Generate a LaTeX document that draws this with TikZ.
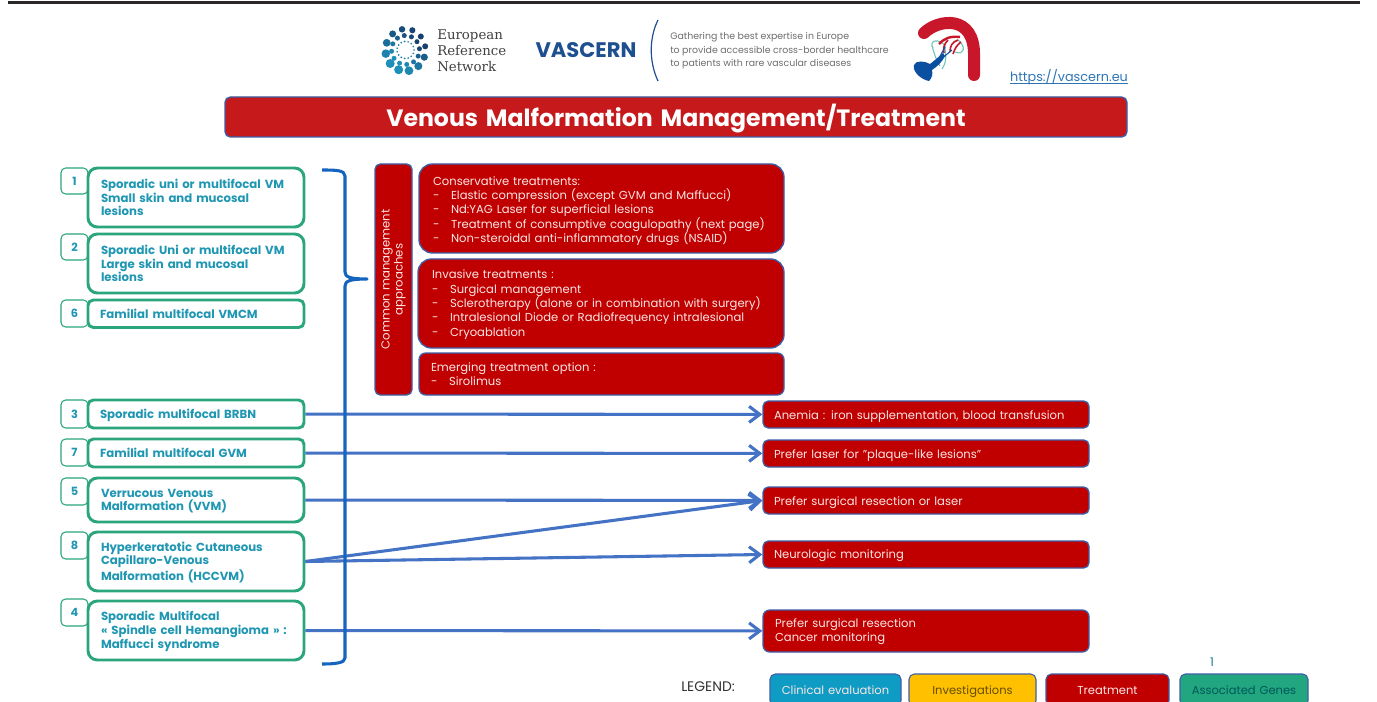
\documentclass[tikz,border=0pt]{standalone}
\usepackage{fontspec}
\setmainfont{Poppins}
\newfontfamily\logoserif{DejaVu Serif}
\usetikzlibrary{arrows.meta}
\definecolor{rulec}{HTML}{2B2727}
\definecolor{boxred}{HTML}{C00000}
\definecolor{titlered}{HTML}{C5191B}
\definecolor{edgeblue}{HTML}{3E5FA8}
\definecolor{arrowblue}{HTML}{4472C4}
\definecolor{bracec}{HTML}{1565C0}
\definecolor{greenedge}{HTML}{2BA57E}
\definecolor{tealtext}{HTML}{1F97B3}
\definecolor{softwhite}{HTML}{FBE6E4}
\definecolor{clinical}{HTML}{0E9CC4}
\definecolor{invest}{HTML}{FFC000}
\definecolor{genes}{HTML}{21A67F}
\definecolor{navydot}{HTML}{17406F}
\definecolor{lightdot}{HTML}{1E93BC}
\definecolor{archred}{HTML}{C8162B}
\definecolor{veinblue}{HTML}{0B4FA0}
\definecolor{taggray}{HTML}{6E6E6E}
\definecolor{urlblue}{HTML}{2E75B6}
\definecolor{vascernblue}{HTML}{1E4F8F}
\definecolor{vesselteal}{HTML}{6CC4B4}
\newcommand{\pbox}[8]{%
  \pgfmathsetmacro{\bw}{#4-#2}\pgfmathsetmacro{\bh}{#5-#3}%
  \pgfmathsetmacro{\bcx}{(#2+#4)/2}\pgfmathsetmacro{\bcy}{(#3+#5)/2}%
  \pgfmathsetmacro{\tw}{(#4-#2-2*#6)*0.75}%
  \node[minimum width=\bw*0.75pt,minimum height=\bh*0.75pt,text width=\tw pt,inner sep=0pt,#7] (#1) at (\bcx,\bcy) {#8};}
\newcommand{\dash}{\makebox[13.5pt][l]{-}}
\tikzset{
  x=0.75pt,y=-0.75pt,
  nudge/.style={execute at begin node={\rule{0pt}{#1}}},
  greenbox/.style={draw=greenedge,line width=2.2pt,fill=white,rounded corners=7pt,align=left,text=tealtext,font=\fontsize{8.8pt}{10pt}\selectfont\bfseries},
  numbox/.style={draw=greenedge,line width=0.8pt,fill=white,rounded corners=3.5pt,align=center,text=tealtext,font=\fontsize{8.5pt}{10pt}\selectfont\bfseries},
  redbox/.style={draw=edgeblue,line width=1pt,fill=boxred,rounded corners=10pt,align=left,text=softwhite,font=\fontsize{8.68pt}{10.75pt}\selectfont},
  redsmall/.style={redbox,rounded corners=4pt},
  legendbox/.style={draw=edgeblue,line width=0.8pt,rounded corners=4pt,align=center,text height=8.5pt,text depth=2pt,font=\fontsize{8.65pt}{10pt}\selectfont},
  flow/.style={draw=arrowblue,line width=2.3pt,-{Straight Barb[length=8pt,width=12pt,line width=2.3pt]}},
}
\begin{document}
\begin{tikzpicture}
\useasboundingbox (0,0) rectangle (1377,702);
\fill[white] (0,0) rectangle (1377,702);
\draw[rulec,line width=1.6pt] (8,2.5) -- (1360,2.5);

% ERN logo
\foreach \a/\m in {-20/95,10/100,40/100,70/95,100/85,130/70,160/45,190/20,220/5,250/5,280/15,310/35,340/65}{
  \pgfmathsetmacro{\rr}{3.0+1.6*(100-\m)/100}
  \fill[navydot!\m!lightdot] ({405.5+20*cos(\a)},{50-21*sin(\a)}) circle ({\rr});}
\foreach \a/\m in {5/95,35/95,65/90,95/80,125/60,155/35,185/15,215/5,245/5,275/15,305/35,335/60}{
  \fill[navydot!\m!lightdot] ({405.5+14*cos(\a)},{50-14.5*sin(\a)}) circle (2.5);}
\foreach \a in {0,24,...,336}{
  \fill[lightdot!75!navydot] ({405.5+8.5*cos(\a)},{50-8.5*sin(\a)}) circle (0.95);}

\node[font=\logoserif\fontsize{10pt}{11.9pt}\selectfont,text=black!75,align=left,inner sep=0pt,anchor=west] (ern) at (437,51) {European\\Reference\\Network};
\node[font=\fontsize{15.8pt}{17pt}\selectfont\bfseries,text=vascernblue,inner sep=0pt] (vascern) at (586,50) {VASCERN};
\draw[vascernblue,line width=0.9pt] (658,20) .. controls (649,38) and (649,62) .. (658,81);
\node[font=\fontsize{7.05pt}{10.2pt}\selectfont,text=taggray,align=left,inner sep=0pt,anchor=west] (tag) at (670,51) {Gathering the best expertise in Europe\\to provide accessible cross-border healthcare\\to patients with rare vascular diseases};

% Vascular logo
\draw[vesselteal,line width=0.8pt] (933,48) .. controls (928,40) and (940,38) .. (945,46) .. controls (945,54) and (948,60) .. (942,69);
\draw[vesselteal,line width=0.8pt] (955,52) .. controls (965,56) and (966,46) .. (958,40);
\draw[vesselteal,line width=0.8pt] (932,46) .. controls (935,56) and (937,62) .. (940,66);
\draw[archred,line width=9pt,line cap=round] (924,33) .. controls (938,19) and (975,14) .. (974,56) -- (974,75);
\begin{scope}[draw=archred]
  \draw[line width=1.8pt] (960,37) .. controls (950,36) and (945,38) .. (939,44);
  \draw[line width=1.2pt] (958,40) .. controls (952,42) and (950,46) .. (950,52);
  \draw[line width=1.2pt] (961,42) .. controls (957,45) and (955,48) .. (953,54);
  \draw[line width=1.2pt] (948,40) .. controls (944,44) and (943,48) .. (944,53);
\end{scope}
\fill[veinblue] (914,65) .. controls (916,60) and (925,61) .. (930,64) .. controls (935,60) and (940,56) .. (943,53) -- (945,56) .. controls (942,62) and (938,66) .. (932,70) .. controls (933,74) and (932,78) .. (929,81) .. controls (922,80) and (912,72) .. (914,65) -- cycle;
\draw[veinblue,line width=0.8pt] (938,60) -- (945,47);
\draw[veinblue,line width=0.8pt] (940,60) -- (952,50);

\node[font=\fontsize{9.6pt}{11pt}\selectfont,text=urlblue,inner sep=0pt] (url) at (1069,77) {https://vascern.eu};
\draw[urlblue,line width=0.6pt] ([yshift=-1.5pt]url.base west) -- ([yshift=-1.5pt]url.base east);

% Title
\pbox{title}{225}{97}{1127}{137}{0}{draw=edgeblue,line width=1pt,fill=titlered,rounded corners=4pt,align=center,text=white,font=\fontsize{17.7pt}{20pt}\selectfont\bfseries,nudge=19pt}{Venous Malformation Management/Treatment}

% Left column
\pbox{n1}{61}{168}{88}{194}{0}{numbox}{1}
\pbox{g1}{88}{168}{304}{227}{13}{greenbox}{Sporadic uni or multifocal VM\\Small skin and mucosal\\lesions}
\pbox{n2}{61}{234}{88}{260}{0}{numbox}{2}
\pbox{g2}{88}{234}{304}{293}{13}{greenbox}{Sporadic Uni or multifocal VM\\Large skin and mucosal\\lesions}
\pbox{n6}{61}{300}{88}{327}{0}{numbox}{6}
\pbox{g6}{88}{300}{304}{327.5}{12}{greenbox,rounded corners=4pt}{Familial multifocal VMCM}
\pbox{n3}{61}{400}{88}{428}{0}{numbox}{3}
\pbox{g3}{88}{400}{304}{428}{12}{greenbox,rounded corners=4pt,nudge=9pt}{Sporadic multifocal BRBN}
\pbox{n7}{61}{439}{88}{466}{0}{numbox}{7}
\pbox{g7}{88}{439}{304}{467}{12}{greenbox,rounded corners=4pt}{Familial multifocal GVM}
\pbox{n5}{61}{478}{88}{505}{0}{numbox}{5}
\pbox{g5}{88}{478}{304}{522}{13}{greenbox,nudge=8pt}{Verrucous Venous\\Malformation (VVM)}
\pbox{n8}{61}{532}{88}{559}{0}{numbox}{8}
\pbox{g8}{88}{532}{304}{591}{13}{greenbox,nudge=8.4pt}{Hyperkeratotic Cutaneous\\Capillaro-Venous\\Malformation (HCCVM)}
\pbox{n4}{61}{599}{88}{626}{0}{numbox}{4}
\pbox{g4}{88}{601}{304}{660}{13}{greenbox,nudge=8pt,font=\fontsize{8.8pt}{10.4pt}\selectfont\bfseries}{Sporadic Multifocal\\« Spindle cell Hemangioma » :\\Maffucci syndrome}

% Common management
\node[draw=edgeblue,line width=1pt,fill=boxred,rounded corners=4pt,minimum width=231*0.75pt,minimum height=37*0.75pt,inner sep=0pt,rotate=90,align=center,text=softwhite,font=\fontsize{8.75pt}{9.8pt}\selectfont,nudge=9.5pt] (common) at (393.5,279.5) {Common management\\approaches};
\pbox{cons}{419}{164}{784}{253}{14}{redbox,nudge=10.2pt}{Conservative treatments:\\\dash Elastic compression (except GVM and Maffucci)\\\dash Nd:YAG Laser for superficial lesions\\\dash Treatment of consumptive coagulopathy (next page)\\\dash Non-steroidal anti-inflammatory drugs (NSAID)}
\pbox{inv}{418}{259}{784}{348}{14}{redbox,nudge=8.2pt}{Invasive treatments :\\\dash Surgical management\\\dash Sclerotherapy (alone or in combination with surgery)\\\dash Intralesional Diode or Radiofrequency intralesional\\\dash Cryoablation}
\pbox{emer}{419}{353}{784}{395}{12}{redbox,rounded corners=5pt}{Emerging treatment option :\\\dash Sirolimus}

% Right column
\pbox{r3}{763}{401}{1089}{428}{11}{redsmall,nudge=9.5pt}{Anemia : iron supplementation, blood transfusion}
\pbox{r7}{763}{440}{1089}{467}{11}{redsmall,nudge=9.5pt}{Prefer laser for "plaque-like lesions"}
\pbox{r5}{763}{487}{1089}{514}{11}{redsmall,nudge=9.5pt}{Prefer surgical resection or laser}
\pbox{r8}{763}{541}{1089}{568}{11}{redsmall,nudge=8.5pt}{Neurologic monitoring}
\pbox{r4}{763}{610}{1089}{652}{12}{redsmall,rounded corners=5pt,font=\fontsize{8.68pt}{10.2pt}\selectfont,nudge=8pt}{Prefer surgical resection\\Cancer monitoring}

% Connectors
\draw[flow] (g3) -- (r3);
\draw[flow] (g7) -- (r7);
\draw[flow] (g5) -- (r5);
\draw[flow] (g8.east) -- (r5.west);
\draw[flow] (g8.east) -- (r8.west);
\draw[flow] (g4) -- (r4);

% Brace
\coordinate (btip) at (367,279);
\draw[bracec,line width=2.3pt,line join=round] (322,170) .. controls (335,170) and (345,170) .. (345,176) -- (345,272) .. controls (345,277) and (350,279) .. (btip) .. controls (350,279) and (345,281) .. (345,286) -- (345,658) .. controls (345,663) and (335,664) .. (322,664);

% Legend
\node[inner sep=0pt,font=\fontsize{10.4pt}{11pt}\selectfont,text=black!80] (legend) at (708,687) {LEGEND:};
\pbox{lc}{770}{674}{901}{706}{0}{legendbox,fill=clinical,text=softwhite}{Clinical evaluation}
\pbox{li}{909}{674}{1036}{706}{0}{legendbox,fill=invest,text=black!60!invest}{Investigations}
\pbox{lt}{1046}{674}{1169}{706}{0}{legendbox,fill=boxred,text=softwhite}{Treatment}
\pbox{lg}{1180}{674}{1308}{706}{0}{legendbox,fill=genes,text=teal!70!black}{Associated Genes}
\node[inner sep=0pt,font=\fontsize{9pt}{10pt}\selectfont,text=tealtext!80!black] (one) at (1212,662) {1};
\end{tikzpicture}
\end{document}
